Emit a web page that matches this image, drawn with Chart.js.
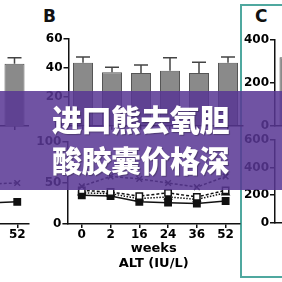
<!DOCTYPE html>
<html>
<head>
<meta charset="utf-8">
<script src="https://cdn.jsdelivr.net/npm/chart.js@4.4.0/dist/chart.umd.min.js"></script>
<style>
    body { margin: 0; width: 282px; height: 282px; overflow: hidden; background: #fff; position: relative; }
    canvas { position: absolute; }
    .panel { position: absolute; font: bold 17px "DejaVu Sans", sans-serif; color: #111; }
    #boxC { position: absolute; left: 240px; top: 4px; width: 80px; height: 270px; border: 2px solid #4fa89f; }
    #banner { position: absolute; left: 0; top: 91px; width: 282px; height: 99px; background: rgba(88, 55, 148, 0.86); }
    #headline { position: absolute; left: 52px; top: 98px; font: 900 30px "Noto Sans CJK SC", sans-serif;
        line-height: 41px; color: #fff; letter-spacing: -0.5px; text-shadow: 1px 1px 1px rgba(0, 0, 0, 0.3); white-space: nowrap; }
</style>
</head>
<body>
<div id="boxC"></div>
<div class="panel" style="left:43px;top:6px">B</div>
<div class="panel" style="left:255px;top:6px">C</div>

<canvas id="aTop" width="29" height="114" style="left:0;top:20px"></canvas>
<canvas id="aBottom" width="59" height="145" style="left:-24px;top:130px"></canvas>
<canvas id="bTop" width="246" height="114" style="left:0;top:20px"></canvas>
<canvas id="bBottom" width="246" height="145" style="left:0;top:130px"></canvas>
<canvas id="cTop" width="70" height="114" style="left:240px;top:20px"></canvas>
<canvas id="cBottom" width="70" height="101" style="left:240px;top:130px"></canvas>

<div id="banner"></div>
<div id="headline">进口熊去氧胆<br>酸胶囊价格深</div>

<script>
    // weeks on the x axis
    var weeks = ['0', '2', '16', '24', '36', '52'];

    // panel A, only the last week is in view
    var aWeeks = ['36', '52'];
    var aBar = [43];
    var aBarErr = [47];
    var aSolid = [26, 27];
    var aCross = [49, 50];

    // panel B bars (mean and top of error bar)
    var bBar = [43.5, 37, 36.5, 38, 36.5, 43.5];
    var bBarErr = [47.5, 40.5, 42, 47, 44, 47.5];

    // panel B ALT lines
    var altSolid = [35, 34, 27, 26, 25, 28];
    var altTriangle = [38, 37, 31, 33, 30, 38];
    var altOpen = [41, 39, 34, 38, 33, 41];
    var altCross = [46, 58, 55, 50, 45, 58];

    // panel C, first bar only
    var cBar = [320];

    var ink = '#111';

    Chart.defaults.font.family = '"DejaVu Sans", sans-serif';
    Chart.defaults.font.size = 12;
    Chart.defaults.font.weight = 'bold';
    Chart.defaults.color = '#000';
    Chart.defaults.animation = false;
    Chart.defaults.responsive = false;
    Chart.defaults.plugins.legend.display = false;
    Chart.defaults.plugins.tooltip.enabled = false;

    var errorBars = {
        id: 'errorBars',
        afterDatasetsDraw: function (chart) {
            var ctx = chart.ctx;
            var y = chart.scales.y;
            chart.data.datasets.forEach(function (ds, i) {
                if (!ds.errorTop) return;
                chart.getDatasetMeta(i).data.forEach(function (bar, j) {
                    if (ds.errorTop[j] == null) return;
                    var top = y.getPixelForValue(ds.errorTop[j]);
                    ctx.save();
                    ctx.strokeStyle = '#444';
                    ctx.lineWidth = 1.5;
                    ctx.beginPath();
                    ctx.moveTo(bar.x, bar.y);
                    ctx.lineTo(bar.x, top);
                    ctx.moveTo(bar.x - 7, top);
                    ctx.lineTo(bar.x + 7, top);
                    ctx.stroke();
                    ctx.restore();
                });
            });
        }
    };

    function yAxis(max, step, width, show) {
        return {
            display: show !== false,
            min: 0,
            max: max,
            ticks: {stepSize: step, padding: 1},
            grid: {drawOnChartArea: false, tickLength: 5, color: ink, lineWidth: 1.5},
            border: {color: ink, width: 1.5},
            afterFit: function (s) { s.width = width; }
        };
    }

    function xAxis(height, labels, title) {
        return {
            offset: true,
            ticks: {display: labels, padding: 0, maxRotation: 0, autoSkip: false},
            grid: {offset: false, drawOnChartArea: false, tickLength: 4, color: ink, lineWidth: 1.5},
            border: {color: ink, width: 1.5},
            title: title ? {
                display: true,
                text: title,
                font: {size: 13, weight: 'bold', lineHeight: 1.15},
                padding: {top: 0, bottom: 3.5}
            } : {display: false},
            afterFit: function (s) { s.height = height; }
        };
    }

    function barSet(values, err) {
        return {
            data: values,
            errorTop: err,
            backgroundColor: '#8a8a8a',
            borderColor: '#555',
            borderWidth: 1,
            barPercentage: 0.69,
            categoryPercentage: 1
        };
    }

    function lineSet(values, style, fill, dash) {
        return {
            data: values,
            borderColor: ink,
            borderWidth: 1.5,
            borderDash: dash || [],
            pointStyle: style,
            pointRadius: style === 'rect' ? 4.5 : 4,
            pointBorderColor: ink,
            pointBorderWidth: 1.5,
            pointBackgroundColor: fill,
            tension: 0
        };
    }

    new Chart(document.getElementById('aTop'), {
        type: 'bar',
        data: {labels: ['52'], datasets: [barSet(aBar, aBarErr)]},
        options: {
            layout: {padding: {top: 19, right: 0, bottom: 8, left: 0}},
            scales: {x: xAxis(0, false), y: yAxis(60, 20, 0, false)}
        },
        plugins: [errorBars]
    });

    var aX = xAxis(51, true);
    // the earlier week is cut off by the crop, so only the last label shows
    aX.ticks.callback = function (value, index) {
        return index === aWeeks.length - 1 ? aWeeks[index] : '';
    };
    new Chart(document.getElementById('aBottom'), {
        type: 'line',
        data: {
            labels: aWeeks,
            datasets: [
                lineSet(aSolid, 'rect', ink),
                lineSet(aCross, 'crossRot', ink, [3, 2])
            ]
        },
        options: {
            layout: {padding: {top: 12, right: 0, bottom: 0, left: 0}},
            scales: {x: aX, y: yAxis(100, 50, 0, false)}
        }
    });

    new Chart(document.getElementById('bTop'), {
        type: 'bar',
        data: {labels: weeks, datasets: [barSet(bBar, bBarErr)]},
        options: {
            layout: {padding: {top: 19, right: 3.5, bottom: 8, left: 0}},
            scales: {x: xAxis(0, false), y: yAxis(60, 20, 68.5)}
        },
        plugins: [errorBars]
    });

    new Chart(document.getElementById('bBottom'), {
        type: 'line',
        data: {
            labels: weeks,
            datasets: [
                lineSet(altCross, 'crossRot', ink, [3, 2]),
                lineSet(altOpen, 'rect', '#fff', [3, 2]),
                lineSet(altTriangle, 'triangle', ink, [1.5, 1.5]),
                lineSet(altSolid, 'rect', ink)
            ]
        },
        options: {
            layout: {padding: {top: 12, right: 3.4, bottom: 0, left: 0}},
            scales: {x: xAxis(51, true, ['weeks', 'ALT (IU/L)']), y: yAxis(100, 50, 67.4)}
        }
    });

    new Chart(document.getElementById('cTop'), {
        type: 'bar',
        data: {labels: ['0'], datasets: [barSet(cBar, [null])]},
        options: {
            layout: {padding: {top: 20, right: 6, bottom: 8, left: 0}},
            scales: {x: xAxis(0, false), y: yAxis(400, 200, 35)}
        },
        plugins: [errorBars]
    });

    new Chart(document.getElementById('cBottom'), {
        type: 'line',
        data: {labels: ['0'], datasets: []},
        options: {
            layout: {padding: {top: 10, right: 6, bottom: 8, left: 0}},
            scales: {x: xAxis(0, false), y: yAxis(600, 200, 35)}
        }
    });
</script>
</body>
</html>
